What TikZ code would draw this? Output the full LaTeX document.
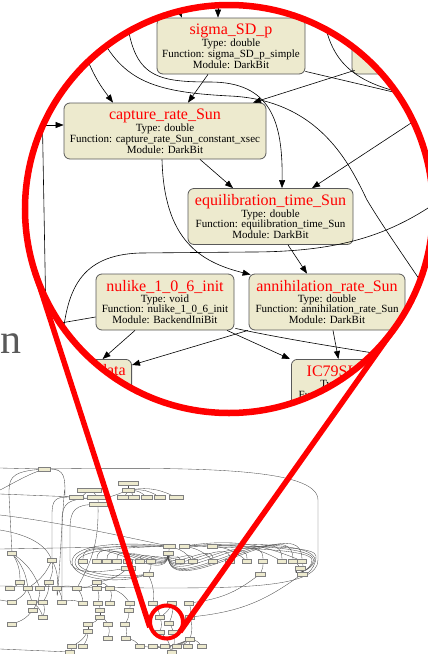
\documentclass[tikz,border=0pt]{standalone}
\usepackage{fontspec}
\setmainfont{Liberation Serif}
\usetikzlibrary{arrows.meta, calc}
\definecolor{boxfill}{RGB}{237,234,206}
\definecolor{lensred}{RGB}{255,0,0}
\pgfdeclarelayer{bg}
\pgfsetlayers{bg,main}
\newcommand{\nodetitle}[1]{{\fontsize{16}{16}\selectfont\color{red}#1}}

\begin{document}
\begin{tikzpicture}[x=1pt, y=-1pt,
  fn/.style={draw=black!65, line width=0.8pt, fill=boxfill, rounded corners=6pt,
    align=center, minimum height=56pt, inner sep=2pt, font=\fontsize{11}{10.8}\selectfont},
  edge/.style={line width=0.6pt, -{Triangle[length=8pt, width=6pt]}},
  wire/.style={line width=0.6pt},
  lens/.style={draw=lensred, line width=6.5pt},
  tiny/.style={draw=black!50, fill=boxfill, line width=0.3pt, minimum width=9pt,
    minimum height=4pt, inner sep=0pt},
  thread/.style={draw=black!70, line width=0.35pt}]
  \useasboundingbox (0,0) rectangle (428,654);

  % 背景文字
  \node[anchor=base east, inner sep=0pt, text=black!65,
    font=\fontsize{42}{42}\selectfont] (word) at (22,353) {n};

  % 缩略图：节点
  \foreach \n/\x/\y/\w in {a1/44/469/12, a2/128/483/20, a3/89/490/24, a4/128/490/12, a5/98/504/18,
    b1/76/497/14, b2/97/497/20, b3/123/497/11, b4/134/497/11, b5/147/497/11, b6/160/497/11, b7/176/497/14,
    c1/169/546/12, c2/184/546/10, c3/212/546/10, c4/168/553/10,
    e1/128/568/14, e2/148/574/10, e3/260/574/10, e4/300/568/10, e5/302/574/10}
    \node[tiny, minimum width=\w pt] (\n) at (\x,\y) {};
  \foreach \x [count=\k] in {83,97,107,117,128,140,151,180,193,213,230,247,263,282,293,302}
    \node[tiny] (d\k) at (\x,561) {};
  \foreach \x/\y [count=\k] in {12/553, 52/560, 20/582, 49/582, 10/588, 28/588, 40/588, 57/588,
    12/602, 32/602, 43/602, 62/602, 33/610, 43/617, 12/624}
    \node[tiny] (l\k) at (\x,\y) {};
  \foreach \x/\y [count=\k] in {97/582, 77/588, 97/588, 110/588, 83/603, 98/603, 110/603, 130/603,
    129/610, 100/610, 100/617, 88/624, 108/624, 125/624, 88/631, 108/638, 126/638, 72/646, 83/646, 70/652}
    \node[tiny] (m\k) at (\x,\y) {};
  \foreach \x/\y [count=\k] in {153/603, 172/603, 189/603, 160/617, 169/623, 160/632, 173/632, 190/617,
    190/639, 140/646, 153/646, 165/646, 177/646, 188/646, 202/646, 172/652}
    \node[tiny] (r\k) at (\x,\y) {};

  % 缩略图：连线
  \coordinate (w1) at (0,468); \coordinate (w2) at (0,490); \coordinate (w3) at (0,515);
  \coordinate (w4) at (0,549); \coordinate (w5) at (0,586); \coordinate (w6) at (0,649);
  \coordinate (w7) at (0,530); \coordinate (w8) at (0,600); \coordinate (w9) at (0,494);
  \begin{pgfonlayer}{bg}
  \foreach \s/\t in {a2/a4, a4/b1, a4/b3, a4/b4, a4/b5, a4/b6, a4/b7, a3/b1, a3/b2, b2/a5,
    c1/c4, c1/d9, c2/d10, c3/d12, c3/d14, c2/d16, d5/e1, d7/e2, d13/e3, d15/e4, d16/e5,
    l1/l3, l1/l6, l2/l4, l2/l8, l3/l5, l3/l10, l4/l7, l4/l11, l6/l9, l7/l13, l8/l12, l10/l14,
    l13/l15, l11/l14, l2/l6, l1/l7,
    m1/m2, m1/m3, m1/m4, m2/m5, m3/m6, m4/m7, m4/m8, m8/m9, m6/m10, m10/m11, m11/m12, m11/m13,
    m9/m14, m12/m15, m13/m16, m14/m17, m15/m18, m15/m19, m18/m20,
    r1/r4, r2/r4, r2/r5, r3/r8, r4/r6, r5/r7, r8/r9, r9/r10, r9/r11, r9/r12, r9/r13, r9/r14,
    r9/r15, r12/r16, r6/r16, r7/r16,
    e1/m1, e2/r1, e3/r3, e5/r8, a5/m2, l12/m5, m17/r10, l8/m2}
    \draw[thread] (\s) to[bend left=15] (\t);
  \foreach \k in {1,...,16} \draw[thread] (c4) to[out=-90, in=90] (d\k);
  \draw[thread] (w1) -- (a1);
  \draw[thread] (w9) -- (b1);
  \draw[thread] (a1) .. controls (200,467) and (318,468) .. (318,500) -- (318,560)
    .. controls (318,588) and (240,588) .. (150,588) -- (w5);
  \draw[thread] (a1) .. controls (65,469) and (65,478) .. (65,495) to[out=90, in=-90] (l8);
  \draw[thread] (a1) .. controls (25,476) and (10,485) .. (w2);
  \draw[thread] (a1) .. controls (9,472) and (9,480) .. (9,495) -- (l1);
  \draw[thread] (w3) .. controls (60,522) and (130,538) .. (c1);
  \draw[thread] (w4) -- (c1);
  \draw[thread] (w7) .. controls (30,535) and (45,545) .. (l2);
  \draw[thread] (w8) -- (l9);
  \draw[thread] (w6) -- (m20);
  \draw[thread] (b1) .. controls (55,497) and (52,500) .. (52,515) -- (l2);
  \draw[thread] (b2) .. controls (70,500) and (62,502) .. (62,520) -- (l12);
  \draw[thread] (c3) .. controls (280,546) and (316,548) .. (316,556)
    .. controls (316,572) and (300,578) .. (e5);
  \foreach \o in {0,3,6} {
    \draw[thread] (c1) .. controls (120,548-\o) and (78-\o,550-\o) .. (78-\o,562)
      .. controls (78-\o,574+\o) and (120,578+\o) .. (e2);
    \draw[thread] (c2) .. controls (250,548-\o) and (312+\o/2,550-\o) .. (312+\o/2,560)
      .. controls (312,572) and (290,576) .. (e4);
  }
  \draw[thread] (a5) .. controls (72,506) and (70,515) .. (70,530) -- (70,560)
    .. controls (70,572) and (90,574) .. (e1);
  \end{pgfonlayer}

  % 放大镜里的图
  \coordinate (lens) at (229,209);
  \begin{scope}
    \clip (lens) circle (204pt);
    \fill[white] (lens) circle (204pt);
    \node[fn, minimum width=148pt] (sigma) at (231,46)
      {\nodetitle{sigma\_SD\_p}\\Type: double\\Function: sigma\_SD\_p\_simple\\Module: DarkBit};
    \node[fn, minimum width=150pt] (other) at (427,46) {};
    \node[fn, minimum width=202pt] (capt) at (165,131)
      {\nodetitle{capture\_rate\_Sun}\\Type: double\\Function: capture\_rate\_Sun\_constant\_xsec\\Module: DarkBit};
    \node[fn, minimum width=165pt] (equil) at (270.5,216.5)
      {\nodetitle{equilibration\_time\_Sun}\\Type: double\\Function: equilibration\_time\_Sun\\Module: DarkBit};
    \node[fn, minimum width=138pt] (nulike) at (165,302)
      {\nodetitle{nulike\_1\_0\_6\_init}\\Type: void\\Function: nulike\_1\_0\_6\_init\\Module: BackendIniBit};
    \node[fn, minimum width=156pt] (annih) at (327,302)
      {\nodetitle{annihilation\_rate\_Sun}\\Type: double\\Function: annihilation\_rate\_Sun\\Module: DarkBit};
    \node[fn, minimum width=105pt, anchor=north east, text depth=35pt] (data) at (132,359)
      {\nodetitle{IC79WH\_data}};
    \node[fn, minimum width=116pt, anchor=north west, text depth=11pt] (ic) at (291,359)
      {\nodetitle{IC79SL\_data}\\Type: nudata\\Function: IC79SL\_full};
    % 连线
    \coordinate (in1) at (172,-5); \coordinate (in2) at (218,-5);
    \draw[edge] (in1) -- ([xshift=-49pt]sigma.north);
    \draw[edge] (in2) -- ([xshift=-13pt]sigma.north);
    \coordinate (in3) at (78,35);
    \draw[edge] (in3) .. controls (92,75) and (100,85) .. ([xshift=-52pt]capt.north);
    \draw[edge] ([xshift=-23pt]sigma.south) -- ([xshift=23pt]capt.north);
    \draw[edge] ([xshift=3pt,yshift=4pt]other.south west) -- ([xshift=88pt]capt.north);
    \coordinate (out1) at (440,103);
    \draw[wire] ([yshift=3pt]sigma.south east) -- (out1);
    \coordinate (in4) at (322,0); \coordinate (out2) at (440,100);
    \draw[wire] (in4) .. controls (326,70) and (360,88) .. (out2);
    \coordinate (in5) at (125,0);
    \draw[edge] (in5) .. controls (130,75) and (150,82) .. (210,82)
      .. controls (270,82) and (283,120) .. ([xshift=11.5pt]equil.north);
    \coordinate (in6) at (95,25); \coordinate (out3) at (440,310);
    \draw[wire] (in6) .. controls (120,80) and (150,92) .. (230,96)
      .. controls (320,100) and (350,165) .. (367,200) .. controls (385,230) and (410,265) .. (out3);
    \coordinate (in7) at (440,104);
    \draw[edge] (in7) -- ([xshift=41.5pt]equil.north);
    \coordinate (in8) at (10,125);
    \draw[edge] (in8) -- ([yshift=6pt]capt.west);
    \coordinate (v1) at (42,100); \coordinate (v2) at (46,320);
    \draw[wire] (v1) -- (v2);
    \draw[edge] ([xshift=-3pt]capt.south) .. controls (164,240) and (200,262)
      .. ([xshift=2pt,yshift=-1pt]annih.north west);
    \draw[edge] ([xshift=35pt]capt.south) -- ([xshift=-37.5pt]equil.north);
    \draw[edge] ([xshift=17.5pt]equil.south) -- ([xshift=-20pt]annih.north);
    \coordinate (in9) at (440,200); \coordinate (out4) at (62,345);
    \draw[wire] (in9) .. controls (390,235) and (340,252) .. (250,252) -- (140,253)
      .. controls (80,255) and (66,290) .. (out4);
    \coordinate (out5) at (20,330);
    \draw[wire] ([yshift=-15pt]nulike.west) -- (out5);
    \draw[edge] ([xshift=-30pt]nulike.south) -- ([xshift=23.5pt]data.north);
    \draw[edge] ([xshift=62pt]nulike.south) -- ([xshift=-1pt]ic.north west);
    \draw[edge] ([xshift=-79pt]annih.south) -- ([yshift=-6pt]data.north east);
    \coordinate (out6) at (440,364);
    \draw[wire] ([xshift=1pt,yshift=2pt]nulike.south east) .. controls (280,338) and (330,346)
      .. (367,352) -- (out6);
    \draw[edge] ([xshift=6pt]annih.south) -- ([xshift=-11pt]ic.north);
  \end{scope}

  % 放大镜
  \coordinate (glass) at (166.5,622);
  \coordinate (tl1) at (34.9,271.7); \coordinate (tl2) at (149.8,627.2);
  \coordinate (tr1) at (395.5,326.9); \coordinate (tr2) at (179.9,631.8);
  \draw[lens] (lens) circle (204pt);
  \draw[lens, line width=5.5pt] (tl1) -- (tl2) (tr1) -- (tr2);
  \draw[lens, line width=4pt] (glass) circle (16.5pt);
\end{tikzpicture}
\end{document}
